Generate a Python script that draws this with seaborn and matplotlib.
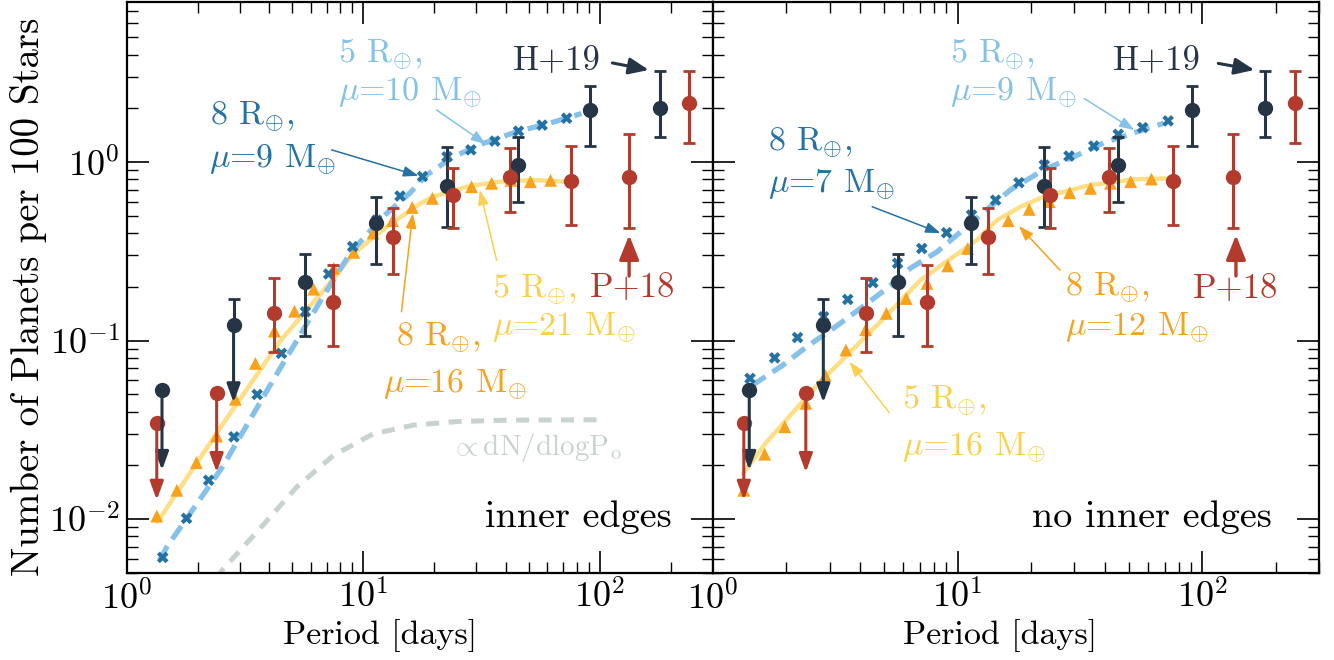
import numpy as np
import matplotlib
matplotlib.use("Agg")
import matplotlib.pyplot as plt
import seaborn as sns
from matplotlib.ticker import FuncFormatter, LogLocator

# --- observed occurrence rates (same in both panels) ---
h19_period = [1.41, 2.83, 5.69, 11.35, 22.6, 45.1, 90.8, 180.0]
h19_rate = [0.053, 0.122, 0.213, 0.455, 0.734, 0.962, 1.96, 2.02]
h19_upper = [np.nan, 0.17, 0.305, 0.637, 1.21, 1.38, 2.67, 3.24]
h19_lower = [0.0188, 0.045, 0.106, 0.27, 0.432, 0.597, 1.23, 1.38]
h19_limit = [True, True, False, False, False, False, False, False]

p18_period = [1.34, 2.4, 4.21, 7.47, 13.35, 23.9, 41.7, 75.5, 133.0, 238.0]
p18_rate = [0.0346, 0.051, 0.1426, 0.165, 0.379, 0.653, 0.828, 0.786, 0.828, 2.13]
p18_upper = [np.nan, np.nan, 0.224, 0.265, 0.552, 0.93, 1.2, 1.23, 1.43, 3.24]
p18_lower = [0.0128, 0.0183, 0.086, 0.093, 0.236, 0.427, 0.525, 0.444, 0.427, 1.28]
p18_limit = [True, True, False, False, False, False, False, False, False, False]

# --- models: 8 Re crosses (blue), 8 Re triangles (orange) ---
cross_period = [1.42, 1.79, 2.22, 2.84, 3.56, 4.51, 5.69, 7.14, 9.02, 11.4,
                14.3, 17.8, 22.6, 28.5, 36.0, 45.3, 57.0, 72.4]
cross_edges = [0.0061, 0.0101, 0.0165, 0.0289, 0.0499, 0.0848, 0.145, 0.236, 0.336, 0.473,
               0.645, 0.83, 1.07, 1.17, 1.31, 1.49, 1.61, 1.76]
cross_noedges = [0.0614, 0.080, 0.104, 0.136, 0.170, 0.211, 0.271, 0.328, 0.402, 0.505,
                 0.612, 0.766, 0.962, 1.08, 1.23, 1.43, 1.56, 1.70]

tri_period = [1.34, 1.63, 1.97, 2.40, 2.88, 3.50, 4.21, 5.12, 6.17, 7.50, 9.12,
              11.0, 13.3, 16.1, 19.6, 23.7, 28.7, 34.9, 42.1, 50.9, 61.9]
tri_edges = [0.0104, 0.0145, 0.0207, 0.0292, 0.0469, 0.0745, 0.113, 0.146, 0.194, 0.254, 0.312,
             0.40, 0.47, 0.557, 0.626, 0.68, 0.727, 0.76, 0.79, 0.776, 0.79]
tri_noedges = [0.0145, 0.0231, 0.0329, 0.0445, 0.064, 0.0885, 0.115, 0.142, 0.172, 0.209, 0.262,
               0.328, 0.40, 0.469, 0.543, 0.60, 0.673, 0.712, 0.76, 0.776, 0.803]

# --- models: 5 Re curves ---
dash_period_edges = [1.38, 1.48, 2.54, 4.16, 6.76, 8.81, 12.1, 15.7, 18.5, 24.0, 32.1, 44.5, 61.4, 83.6]
dash_rate_edges = [0.0059, 0.0070, 0.0196, 0.0601, 0.176, 0.309, 0.494, 0.668, 0.845, 1.07, 1.27, 1.48, 1.65, 1.87]
dash_period_noedges = [1.45, 1.91, 2.42, 3.16, 4.0, 5.15, 6.41, 8.24, 16.4, 22.4, 29.8, 39.5, 51.8, 69.5]
dash_rate_noedges = [0.0562, 0.0719, 0.0923, 0.119, 0.151, 0.196, 0.254, 0.314, 0.697, 0.902, 1.07, 1.28, 1.45, 1.65]

line_period_edges = [1.35, 2.51, 4.47, 7.08, 9.12, 12.6, 17.4, 19.8, 27.4, 37.8, 52.2, 72.1]
line_rate_edges = [0.00966, 0.0331, 0.1, 0.204, 0.308, 0.435, 0.586, 0.64, 0.728, 0.776, 0.793, 0.776]
line_period_noedges = [1.33, 1.64, 2.14, 2.75, 3.65, 4.99, 7.05, 12.0, 14.5, 18.1, 22.5, 34.9, 52.5, 71.9]
line_rate_noedges = [0.018, 0.0265, 0.040, 0.0587, 0.0865, 0.133, 0.218, 0.366, 0.473, 0.562, 0.64, 0.743, 0.80, 0.81]

gray_period = [2.4, 2.54, 3.67, 5.25, 7.5, 11.0, 16.3, 25.0, 40.0, 98.0]
gray_rate = [0.0046, 0.0052, 0.0089, 0.0152, 0.0228, 0.030, 0.0336, 0.0352, 0.0358, 0.036]

c_dark = "#253546"
c_red = "#b23b2e"
c_orange = "#f7a21d"
c_yellow_line = "#fedf86"
c_yellow_txt = "#fbd04c"
c_blue = "#2471a3"
c_lblue = "#85c1e9"
c_gray = "#c8d2d1"

sns.set_theme(style="ticks")
plt.rcParams["font.family"] = ["cmr10", "DejaVu Serif"]
plt.rcParams["mathtext.fontset"] = "cm"
plt.rcParams["axes.formatter.use_mathtext"] = True
plt.rcParams["axes.unicode_minus"] = False
FS = 24.5

W, H = 1334, 660
fig = plt.figure(figsize=(W / 100, H / 100), dpi=100)
ax1 = fig.add_axes([126.7 / W, 1 - 573.3 / H, 586.0 / W, 571.3 / H])
ax2 = fig.add_axes([712.7 / W, 1 - 573.3 / H, 606.6 / W, 571.3 / H])


def ftext(s, x, y, color, ha="left", size=FS):
    fig.text(x / W, 1 - y / H, s, color=color, fontsize=size, ha=ha, va="baseline")


def arrow(ax, tail, tip, color, lw=1.1, hl=0.45, hw=0.16):
    ax.annotate("", xy=tip, xytext=tail,
                arrowprops=dict(arrowstyle="-|>,head_length=%g,head_width=%g" % (hl, hw),
                                color=color, lw=lw, shrinkA=0, shrinkB=0,
                                mutation_scale=20), zorder=8)


def draw_obs(ax, P, N, up, lo, lim, color):
    for p, n, u, l, is_lim in zip(P, N, up, lo, lim):
        if is_lim:
            hi = 0 if np.isnan(u) else u - n
            ax.errorbar([p], [n], yerr=[[0], [hi]], fmt="o", color=color, ms=10,
                        elinewidth=2.2, capsize=4.5 if hi > 0 else 0, capthick=2, zorder=6)
            arrow(ax, (p, n), (p, l), color, lw=2.2, hl=0.55, hw=0.2)
        else:
            ax.errorbar([p], [n], yerr=[[n - l], [u - n]], fmt="o", color=color, ms=10,
                        elinewidth=2.2, capsize=4.5, capthick=2, zorder=6)


def draw_panel(ax, crosses, tris, dP, dN, lP, lN):
    ax.set_xscale("log")
    ax.set_yscale("log")
    sns.lineplot(x=lP, y=lN, ax=ax, color=c_yellow_line, lw=3.2, sort=False, zorder=2)
    sns.lineplot(x=dP, y=dN, ax=ax, color=c_lblue, lw=3.8, sort=False, zorder=2,
                 linestyle=(0, (3, 1.6)))
    sns.scatterplot(x=tri_period, y=tris, ax=ax, color=c_orange, marker="^", s=85,
                    edgecolor="none", zorder=3)
    sns.scatterplot(x=cross_period, y=crosses, ax=ax, color=c_blue, marker="X", s=70,
                    edgecolor="none", zorder=3)
    draw_obs(ax, h19_period, h19_rate, h19_upper, h19_lower, h19_limit, c_dark)
    draw_obs(ax, p18_period, p18_rate, p18_upper, p18_lower, p18_limit, c_red)
    ax.set_xlim(1, 300)
    ax.set_ylim(0.00497, 7.88)
    ax.xaxis.set_major_locator(LogLocator(base=10))
    ax.yaxis.set_major_locator(LogLocator(base=10))
    ax.xaxis.set_minor_locator(LogLocator(base=10, subs=np.arange(2, 10)))
    ax.yaxis.set_minor_locator(LogLocator(base=10, subs=np.arange(2, 10)))
    fmt = FuncFormatter(lambda v, _: r"$10^{%d}$" % round(np.log10(v)))
    ax.xaxis.set_major_formatter(fmt)
    ax.yaxis.set_major_formatter(fmt)
    ax.tick_params(which="both", direction="in", top=True, right=True,
                   labelsize=26, color="black", labelcolor="black")
    ax.tick_params(which="major", length=16, width=1.2, pad=5)
    ax.tick_params(which="minor", length=8, width=1.0)
    for s in ax.spines.values():
        s.set_linewidth(1.6)
        s.set_color("black")
    ax.set_xlabel("Period [days]", fontsize=24.5, color="black")


draw_panel(ax1, cross_edges, tri_edges, dash_period_edges, dash_rate_edges,
           line_period_edges, line_rate_edges)
sns.lineplot(x=gray_period, y=gray_rate, ax=ax1, color=c_gray, lw=3.6, sort=False,
             zorder=1, linestyle=(0, (2.6, 1.9)))
draw_panel(ax2, cross_noedges, tri_noedges, dash_period_noedges, dash_rate_noedges,
           line_period_noedges, line_rate_noedges)
ax2.tick_params(labelleft=False)

ax1.set_ylabel("Number of Planets per 100 Stars", fontsize=28, color="black")
ax1.yaxis.set_label_coords(-0.136, 0.4836)
ax1.xaxis.set_label_coords(0.432, -0.08)
ax2.xaxis.set_label_coords(0.4736, -0.08)

# --- left panel labels ---
ftext(r"5 R$_{\oplus}$,", 338, 62, c_lblue)
ftext(r"$\mu$=10 M$_{\oplus}$", 338, 100, c_lblue)
ftext(r"8 R$_{\oplus}$,", 210, 124, c_blue)
ftext(r"$\mu$=9 M$_{\oplus}$", 209, 167, c_blue)
ftext("H+19", 513, 70, c_dark, size=25)
ftext("P+18", 590, 297, c_red, size=25)
ftext(r"5 R$_{\oplus}$,", 492, 297, c_yellow_txt)
ftext(r"$\mu$=21 M$_{\oplus}$", 492, 335, c_yellow_txt)
ftext(r"8 R$_{\oplus}$,", 396, 345, c_orange)
ftext(r"$\mu$=16 M$_{\oplus}$", 383, 392, c_orange)
ftext(r"${\propto}$dN/dlogP$_{\rm o}$", 450, 455, c_gray, size=21)
ftext("inner edges", 672, 527, "black", ha="right", size=27.5)

arrow(ax1, (20.4, 1.96), (33.0, 1.26), c_lblue)
arrow(ax1, (7.35, 1.17), (17.1, 0.838), c_blue)
arrow(ax1, (113, 3.59), (161, 3.28), c_dark, lw=2.2, hl=0.6, hw=0.25)
arrow(ax1, (133, 0.23), (133, 0.39), c_red, lw=2.4, hl=0.75, hw=0.3)
arrow(ax1, (36.6, 0.282), (31.1, 0.697), c_yellow_txt)
arrow(ax1, (14.5, 0.145), (16.2, 0.516), c_orange)

# --- right panel labels ---
ftext(r"5 R$_{\oplus}$,", 950, 62, c_lblue)
ftext(r"$\mu$=9 M$_{\oplus}$", 950, 100, c_lblue)
ftext(r"8 R$_{\oplus}$,", 768, 150, c_blue)
ftext(r"$\mu$=7 M$_{\oplus}$", 768, 192, c_blue)
ftext("H+19", 1113, 70, c_dark, size=25)
ftext("P+18", 1193, 298, c_red, size=25)
ftext(r"8 R$_{\oplus}$,", 1065, 295, c_orange)
ftext(r"$\mu$=12 M$_{\oplus}$", 1065, 335, c_orange)
ftext(r"5 R$_{\oplus}$,", 902, 408, c_yellow_txt)
ftext(r"$\mu$=16 M$_{\oplus}$", 902, 455, c_yellow_txt)
ftext("no inner edges", 1272, 527, "black", ha="right", size=27.5)

arrow(ax2, (32.9, 2.27), (52.7, 1.51), c_lblue)
arrow(ax2, (4.48, 0.562), (8.52, 0.40), c_blue)
arrow(ax2, (116, 3.57), (163, 3.28), c_dark, lw=2.2, hl=0.6, hw=0.25)
arrow(ax2, (137, 0.23), (137, 0.39), c_red, lw=2.4, hl=0.75, hw=0.3)
arrow(ax2, (26.2, 0.248), (17.8, 0.438), c_orange)
arrow(ax2, (5.27, 0.0394), (3.62, 0.076), c_yellow_txt)

fig.savefig("out.png", dpi=100)
